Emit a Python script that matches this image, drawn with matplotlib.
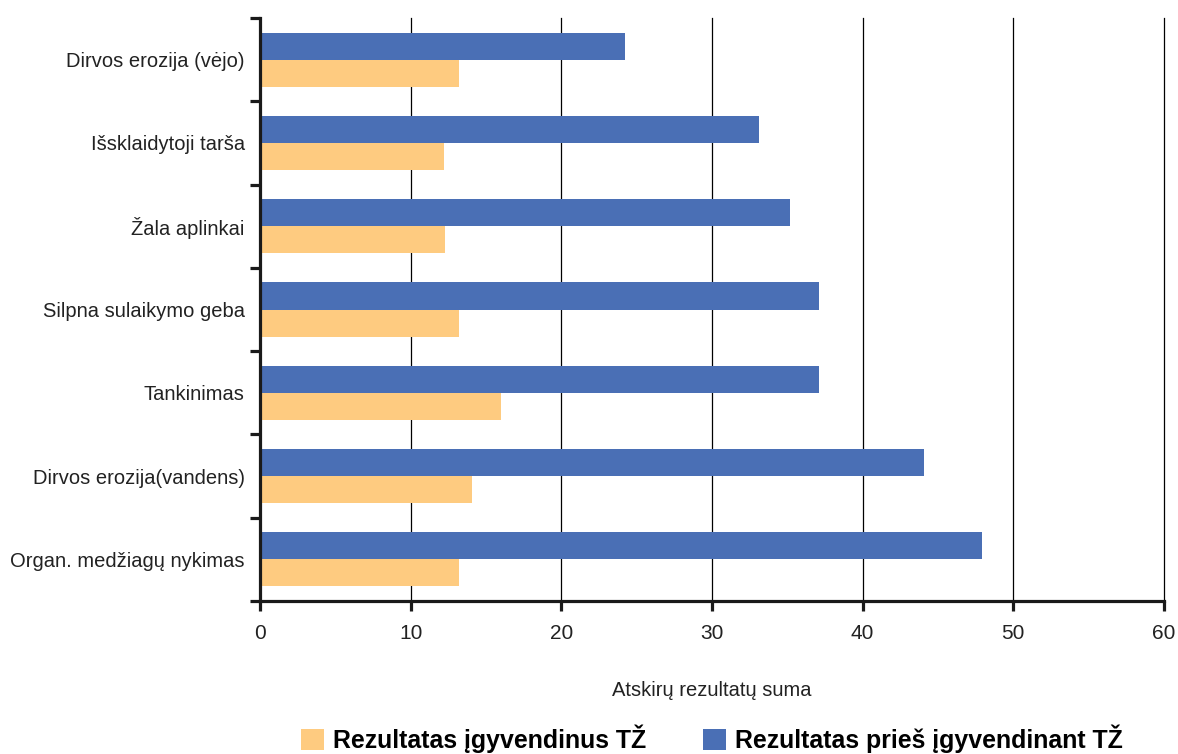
import matplotlib
matplotlib.use("Agg")
import matplotlib.pyplot as plt
from matplotlib.patches import Patch
from matplotlib import font_manager

# Data
categories = [
    "Dirvos erozija (vėjo)",
    "Išsklaidytoji tarša",
    "Žala aplinkai",
    "Silpna sulaikymo geba",
    "Tankinimas",
    "Dirvos erozija(vandens)",
    "Organ. medžiagų nykimas",
]
before_values = [24.2, 33.1, 35.2, 37.1, 37.1, 44.1, 47.9]
after_values = [13.2, 12.2, 12.3, 13.2, 16.0, 14.1, 13.2]
x_ticks = [0, 10, 20, 30, 40, 50, 60]
x_label = "Atskirų rezultatų suma"
label_after = "Rezultatas įgyvendinus TŽ"
label_before = "Rezultatas prieš įgyvendinant TŽ"

BLUE = "#4A6FB5"
ORANGE = "#FECB80"

installed = {f.name for f in font_manager.fontManager.ttflist}
base_font = "Liberation Sans" if "Liberation Sans" in installed else "DejaVu Sans"
plt.rcParams["font.family"] = [base_font, "DejaVu Sans"]

fig = plt.figure(figsize=(11.78, 7.54), dpi=100)
W, H = 1178, 754
left, right, top, bottom = 260, 1164, 18, 601
ax = fig.add_axes([left / W, 1 - bottom / H, (right - left) / W, (bottom - top) / H])

n = len(categories)
pos = list(range(n))
bar_h = 0.325
ax.barh([p - bar_h / 2 for p in pos], before_values, height=bar_h,
        color=BLUE, zorder=3, linewidth=0)
ax.barh([p + bar_h / 2 for p in pos], after_values, height=bar_h,
        color=ORANGE, zorder=3, linewidth=0)

ax.set_xlim(0, 60)
ax.set_ylim(n - 0.5, -0.5)

# vertical grid
for xv in x_ticks[1:]:
    ax.axvline(xv, color="black", lw=0.9, zorder=1, clip_on=False)

for s in ("top", "right"):
    ax.spines[s].set_visible(False)
for s in ("left", "bottom"):
    ax.spines[s].set_linewidth(2.3)
    ax.spines[s].set_color("#1a1a1a")
    ax.spines[s].set_zorder(4)

ax.set_yticks(pos)
ax.set_yticklabels(categories, fontsize=14.5, color="#222222")
ax.tick_params(axis="y", which="major", length=0, pad=11)
ax.set_yticks([p - 0.5 for p in range(n + 1)], minor=True)
ax.tick_params(axis="y", which="minor", length=7, width=2.3, color="#1a1a1a")

ax.set_xticks(x_ticks)
ax.set_xticklabels([str(v) for v in x_ticks], fontsize=15, color="#222222")
ax.tick_params(axis="x", which="major", length=7, width=2.3, color="#1a1a1a",
               pad=9.5, direction="out")

ax.set_xlabel(x_label, fontsize=14.5, color="#222222")
ax.xaxis.set_label_coords(0.5, -0.137)
ax.xaxis.label.set_va("top")

handles = [Patch(facecolor=ORANGE, edgecolor="none", label=label_after),
           Patch(facecolor=BLUE, edgecolor="none", label=label_before)]
fig.legend(handles=handles, loc="lower center", ncol=2,
           bbox_to_anchor=(712 / W, 0.0), frameon=False,
           prop={"family": base_font, "weight": "bold", "size": 17.9},
           handlelength=0.92, handleheight=0.92, handletextpad=0.35,
           columnspacing=2.3, borderpad=0.05, borderaxespad=0.0)

fig.savefig("out.png", dpi=100, facecolor="white")
